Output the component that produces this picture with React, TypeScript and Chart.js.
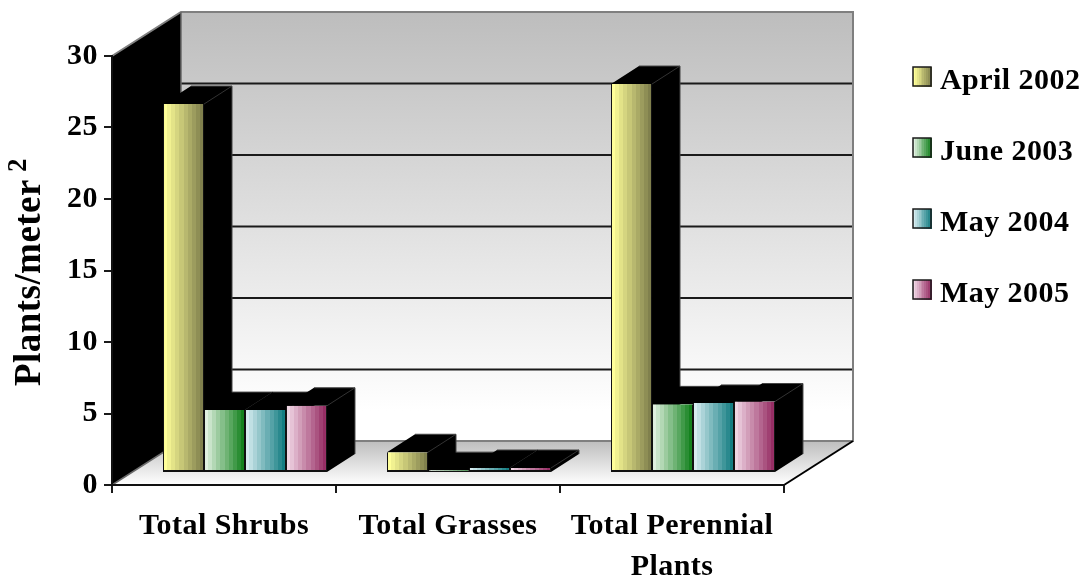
import React, { useEffect, useRef } from "react";
import { Chart, registerables } from "chart.js";

Chart.register(...registerables);

const categories: (string | string[])[] = ["Total Shrubs", "Total Grasses", ["Total Perennial", "Plants"]];
const april2002 = [25.8, 1.45, 27.2];
const june2003 = [4.4, 0.2, 4.8];
const may2004 = [4.4, 0.35, 4.9];
const may2005 = [4.7, 0.35, 5.0];
const seriesNames = ["April 2002", "June 2003", "May 2004", "May 2005"];
const seriesValues = [april2002, june2003, may2004, may2005];
const gradientEnds: [number[], number[]][] = [
  [[255, 255, 153], [128, 128, 77]],
  [[224, 240, 224], [20, 130, 30]],
  [[214, 236, 240], [20, 125, 130]],
  [[240, 214, 228], [150, 45, 100]],
];
const yTicks = [0, 5, 10, 15, 20, 25, 30];
const yTitle = "Plants/meter";
const yTitleSup = "2";

const FONT = '"Liberation Serif", "Times New Roman", serif';
const WALL_DX = 69;
const WALL_DY = -44;
const BAR_SHIFT_X = 21;
const BAR_SHIFT_Y = -12;
const DEPTH_X = 28;
const DEPTH_Y = -18;
const CAT_PCT = 0.732;

function stepped(ctx: CanvasRenderingContext2D, x0: number, x1: number, ends: [number[], number[]]) {
  const g = ctx.createLinearGradient(x0, 0, x1, 0);
  const n = 10;
  for (let i = 0; i < n; i++) {
    const t = i / (n - 1);
    const c = ends[0].map((v, k) => Math.round(v + (ends[1][k] - v) * t));
    const css = `rgb(${c[0]},${c[1]},${c[2]})`;
    g.addColorStop(i / n, css);
    g.addColorStop((i + 1) / n, css);
  }
  return g;
}

function poly(ctx: CanvasRenderingContext2D, pts: number[][], fill?: any, stroke?: string, lw = 1) {
  ctx.beginPath();
  pts.forEach((p, i) => (i ? ctx.lineTo(p[0], p[1]) : ctx.moveTo(p[0], p[1])));
  if (fill) {
    ctx.closePath();
    ctx.fillStyle = fill;
    ctx.fill();
  }
  if (stroke) {
    ctx.strokeStyle = stroke;
    ctx.lineWidth = lw;
    ctx.stroke();
  }
}

const spacing = (chart: any) => {
  (chart.ctx as any).letterSpacing = "0.45px";
};

const scene3d = {
  id: "scene3d",
  beforeUpdate: spacing,
  beforeLayout: spacing,
  beforeDraw(chart: any) {
    spacing(chart);
    const { ctx, scales } = chart;
    const y = scales.y;
    const L = chart.chartArea.left;
    const R = chart.chartArea.right;
    const y0 = y.getPixelForValue(0);
    const y30 = y.getPixelForValue(30);
    const back = (px: number) => px + WALL_DY;
    ctx.save();
    // back wall
    const wall = ctx.createLinearGradient(0, back(y30), 0, back(y0) - 30);
    wall.addColorStop(0, "#bdbdbd");
    wall.addColorStop(1, "#ffffff");
    poly(ctx, [[L + WALL_DX, back(y30)], [R + WALL_DX, back(y30)], [R + WALL_DX, back(y0)], [L + WALL_DX, back(y0)]], wall);
    // floor
    const floor = ctx.createLinearGradient(0, back(y0), 0, y0);
    floor.addColorStop(0, "#bdbdbd");
    floor.addColorStop(1, "#ffffff");
    poly(ctx, [[L, y0], [L + WALL_DX, back(y0)], [R + WALL_DX, back(y0)], [R, y0]], floor);
    // gridlines on the back wall
    yTicks.slice(1, -1).forEach((v) => {
      const p = back(y.getPixelForValue(v));
      poly(ctx, [[L + WALL_DX, p], [R + WALL_DX, p]], null, "#1a1a1a", 2);
    });
    // left wall
    poly(ctx, [[L, y30], [L + WALL_DX, back(y30)], [L + WALL_DX, back(y0)], [L, y0]], "#000000");
    // wall edges
    poly(ctx, [[L, y30], [L + WALL_DX, back(y30)], [R + WALL_DX, back(y30)], [R + WALL_DX, back(y0)], [L + WALL_DX, back(y0)]], null, "#7f7f7f", 2);
    poly(ctx, [[L + WALL_DX, back(y30)], [L + WALL_DX, back(y0)], [L, y0]], null, "#6a6a6a", 1.5);
    poly(ctx, [[R + WALL_DX, back(y0)], [R, y0]], null, "#000000", 2);
    ctx.restore();
  },
  beforeDatasetsDraw(chart: any) {
    const { ctx } = chart;
    ctx.save();
    ctx.translate(BAR_SHIFT_X, BAR_SHIFT_Y);
    // extruded sides and tops of the bars
    chart.data.datasets.forEach((_: any, i: number) => {
      chart.getDatasetMeta(i).data.forEach((el: any) => {
        const { x, y, base, width } = el.getProps(["x", "y", "base", "width"], true);
        const l = x - width / 2;
        const r = x + width / 2;
        poly(ctx, [[l, y], [l + DEPTH_X, y + DEPTH_Y], [r + DEPTH_X, y + DEPTH_Y], [r + DEPTH_X, base + DEPTH_Y], [r, base], [r, y]], "#000000");
        poly(ctx, [[r, y], [r + DEPTH_X, y + DEPTH_Y]], null, "#333333", 1);
        poly(ctx, [[l + DEPTH_X, y + DEPTH_Y], [r + DEPTH_X, y + DEPTH_Y], [r + DEPTH_X, base + DEPTH_Y]], null, "#444444", 1);
      });
    });
  },
  afterDatasetsDraw(chart: any) {
    chart.ctx.restore();
  },
  afterDraw(chart: any) {
    const { ctx } = chart;
    const tops = [67, 138, 209, 280];
    const mids = [81, 152, 223, 294];
    ctx.save();
    ctx.font = `bold 30px ${FONT}`;
    ctx.textBaseline = "middle";
    ctx.textAlign = "left";
    seriesNames.forEach((name, i) => {
      ctx.fillStyle = stepped(ctx, 913, 932, gradientEnds[i]);
      ctx.fillRect(913, tops[i], 19, 20);
      ctx.strokeStyle = "#1a1a1a";
      ctx.lineWidth = 1.5;
      ctx.strokeRect(913, tops[i], 18, 19);
      ctx.fillStyle = "#000000";
      ctx.fillText(name, 940, mids[i]);
    });
    // rotated axis title with its raised exponent
    ctx.textBaseline = "alphabetic";
    ctx.save();
    ctx.translate(40, 386);
    ctx.rotate(-Math.PI / 2);
    ctx.font = `bold 37px ${FONT}`;
    ctx.fillText(yTitle, 0, 0);
    ctx.restore();
    ctx.save();
    ctx.translate(26, 172);
    ctx.rotate(-Math.PI / 2);
    ctx.font = `bold 27px ${FONT}`;
    ctx.fillText(yTitleSup, 0, 0);
    ctx.restore();
    ctx.restore();
  },
};

export default function App() {
  const ref = useRef<HTMLCanvasElement>(null);
  useEffect(() => {
    const canvas = ref.current!;
    const zeroPad = (s: any) => {
      s.paddingLeft = s.paddingRight = s.paddingTop = s.paddingBottom = 0;
    };
    const chart = new Chart(canvas, {
      type: "bar",
      data: {
        labels: categories as any,
        datasets: seriesValues.map((values, si) => ({
          label: seriesNames[si],
          data: values,
          categoryPercentage: CAT_PCT,
          barPercentage: 1,
          borderWidth: { left: 1, right: 1, top: 0, bottom: 2 },
          borderSkipped: false,
          borderColor: "#111111",
          clip: false,
          backgroundColor: (c: any) => {
            const x = c.chart.scales.x;
            if (!x || c.dataIndex === undefined) return "#888888";
            const w = (x.width / categories.length) * CAT_PCT / seriesValues.length;
            const cx = x.getPixelForValue(c.dataIndex) + (si - 1.5) * w;
            if (!Number.isFinite(cx) || !Number.isFinite(w)) return "#888888";
            return stepped(c.chart.ctx, cx - w / 2, cx + w / 2, gradientEnds[si]);
          },
        })) as any,
      },
      options: {
        responsive: false,
        animation: false,
        events: [],
        layout: { padding: { left: 0, top: 56, right: 297, bottom: 0 } },
        plugins: { legend: { display: false }, tooltip: { enabled: false }, title: { display: false } },
        scales: {
          x: {
            offset: true,
            grid: { drawOnChartArea: false, drawTicks: true, tickLength: 8, color: "#1a1a1a", lineWidth: 2 },
            border: { color: "#111111", width: 2 },
            ticks: {
              color: "#000000",
              maxRotation: 0,
              autoSkip: false,
              padding: 13,
              font: { family: FONT, size: 30, weight: "bold", lineHeight: 1.37 },
            },
            afterFit: (s: any) => {
              s.height = 93;
              zeroPad(s);
            },
          } as any,
          y: {
            min: 0,
            max: 30,
            ticks: {
              stepSize: 5,
              color: "#000000",
              padding: 6,
              font: { family: FONT, size: 30, weight: "bold" },
            },
            grid: { drawOnChartArea: false, drawTicks: true, tickLength: 8, color: "#1a1a1a", lineWidth: 2 },
            border: { color: "#111111", width: 2 },
            afterFit: (s: any) => {
              s.width = 112;
              zeroPad(s);
            },
          } as any,
        },
      },
      plugins: [scene3d],
    } as any);
    return () => chart.destroy();
  }, []);
  return (
    <div style={{ position: "absolute", left: 0, top: 0, width: 1081, height: 578, background: "#fff" }}>
      <canvas ref={ref} width={1081} height={578} style={{ display: "block" }} />
    </div>
  );
}
